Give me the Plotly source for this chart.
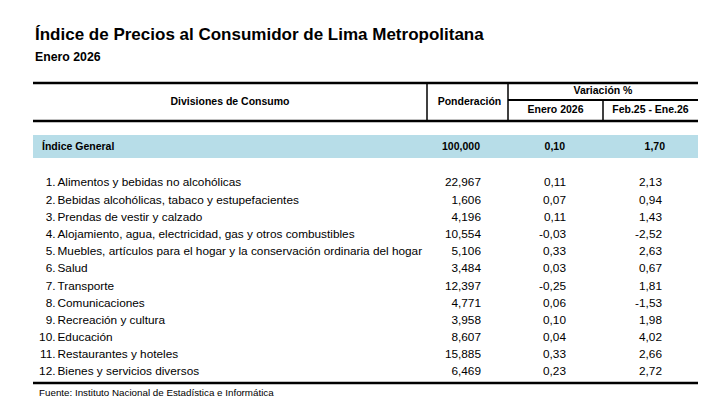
import plotly.graph_objects as go

# ---------------- data ----------------
title = "Índice de Precios al Consumidor de Lima Metropolitana"
subtitle = "Enero 2026"
header_divisiones = "Divisiones de Consumo"
header_ponderacion = "Ponderación"
header_variacion = "Variación %"
header_mes = "Enero 2026"
header_anual = "Feb.25 - Ene.26"

general_label = "Índice General"
general_ponderacion = 100.000
general_mes = 0.10
general_anual = 1.70

division_numbers = ["1.", "2.", "3.", "4.", "5.", "6.", "7.", "8.", "9.", "10.", "11.", "12."]
division_names = [
    "Alimentos y bebidas no alcohólicas",
    "Bebidas alcohólicas, tabaco y estupefacientes",
    "Prendas de vestir y calzado",
    "Alojamiento, agua, electricidad, gas y otros combustibles",
    "Muebles, artículos para el hogar y la conservación ordinaria del hogar",
    "Salud",
    "Transporte",
    "Comunicaciones",
    "Recreación y cultura",
    "Educación",
    "Restaurantes y hoteles",
    "Bienes y servicios diversos",
]
ponderacion = [22.967, 1.606, 4.196, 10.554, 5.106, 3.484, 12.397, 4.771, 3.958, 8.607, 15.885, 6.469]
var_mes = [0.11, 0.07, 0.11, -0.03, 0.33, 0.03, -0.25, 0.06, 0.10, 0.04, 0.33, 0.23]
var_anual = [2.13, 0.94, 1.43, -2.52, 2.63, 0.67, 1.81, -1.53, 1.98, 4.02, 2.66, 2.72]
source = "Fuente: Instituto Nacional de Estadística e Informática"


def fmt(v, d):
    return f"{v:.{d}f}".replace(".", ",")


# ---------------- layout constants (pixels) ----------------
W, H = 719, 409
FONT = "Liberation Sans, Arial, sans-serif"
X_LEFT, X_RIGHT = 33, 698
X_V1, X_V2, X_V3 = 427, 508, 603
Y_TOP, Y_SUB, Y_HEAD_BOTTOM = 83, 100, 121
Y_BAND0, Y_BAND1 = 135, 158
Y_GENERAL = 147
ROW0, ROW_H = 183.5, 17.18
Y_BOTTOM = 383
X_NUM_END, X_NAME = 55.5, 57.5
X_POND, X_MES, X_ANUAL = 481, 566, 662

S_TITLE, S_SUB, S_HEAD, S_ROW, S_SRC = 17, 12.3, 10.5, 11.8, 9.8

row_y = [ROW0 + i * ROW_H for i in range(len(division_names))]

fig = go.Figure()

black = "#000000"


def text_trace(xs, ys, texts, pos, size, bold=False):
    fig.add_trace(go.Scatter(
        x=xs, y=ys, text=texts, mode="text", textposition=pos,
        textfont=dict(family=FONT, size=size, color=black,
                      weight="bold" if bold else "normal"),
        hoverinfo="skip", showlegend=False, cliponaxis=False,
    ))


# title
text_trace([35], [36], [title], "middle right", S_TITLE, True)
text_trace([35], [58], [subtitle], "middle right", S_SUB, True)

# headers
text_trace([(X_LEFT + X_V1) / 2], [(Y_TOP + Y_HEAD_BOTTOM) / 2], [header_divisiones], "middle center", S_HEAD, True)
text_trace([(X_V1 + X_V2) / 2 + 2], [(Y_TOP + Y_HEAD_BOTTOM) / 2], [header_ponderacion], "middle center", S_HEAD, True)
text_trace([(X_V2 + X_RIGHT) / 2], [(Y_TOP + Y_SUB) / 2], [header_variacion], "middle center", S_HEAD, True)
text_trace([(X_V2 + X_V3) / 2], [(Y_SUB + Y_HEAD_BOTTOM) / 2], [header_mes], "middle center", S_HEAD, True)
text_trace([(X_V3 + X_RIGHT) / 2], [(Y_SUB + Y_HEAD_BOTTOM) / 2], [header_anual], "middle center", S_HEAD, True)

# general row
text_trace([42], [Y_GENERAL], [general_label], "middle right", S_HEAD, True)
text_trace([X_POND - 1], [Y_GENERAL], [fmt(general_ponderacion, 3)], "middle left", S_HEAD, True)
text_trace([X_MES - 1], [Y_GENERAL], [fmt(general_mes, 2)], "middle left", S_HEAD, True)
text_trace([X_ANUAL + 3], [Y_GENERAL], [fmt(general_anual, 2)], "middle left", S_HEAD, True)

# division rows
n = len(division_names)
text_trace([X_NUM_END] * n, row_y, division_numbers, "middle left", S_ROW)
text_trace([X_NAME] * n, row_y, division_names, "middle right", S_ROW)
text_trace([X_POND] * n, row_y, [fmt(v, 3) for v in ponderacion], "middle left", S_ROW)
text_trace([X_MES] * n, row_y, [fmt(v, 2) for v in var_mes], "middle left", S_ROW)
text_trace([X_ANUAL] * n, row_y, [fmt(v, 2) for v in var_anual], "middle left", S_ROW)

# source
text_trace([39], [394], [source], "middle right", S_SRC)

shapes = [
    dict(type="rect", x0=X_LEFT, x1=X_RIGHT, y0=Y_BAND0, y1=Y_BAND1,
         fillcolor="#B7DDE8", line=dict(width=0), layer="below"),
    dict(type="line", x0=X_LEFT, x1=X_RIGHT, y0=Y_TOP, y1=Y_TOP, line=dict(color=black, width=2.5)),
    dict(type="line", x0=X_LEFT, x1=X_RIGHT, y0=Y_HEAD_BOTTOM, y1=Y_HEAD_BOTTOM, line=dict(color=black, width=2.5)),
    dict(type="line", x0=X_V2, x1=X_RIGHT, y0=Y_SUB, y1=Y_SUB, line=dict(color=black, width=2)),
    dict(type="line", x0=X_V1, x1=X_V1, y0=Y_TOP, y1=Y_HEAD_BOTTOM, line=dict(color=black, width=1.5)),
    dict(type="line", x0=X_V2, x1=X_V2, y0=Y_TOP, y1=Y_HEAD_BOTTOM, line=dict(color=black, width=1.5)),
    dict(type="line", x0=X_V3, x1=X_V3, y0=Y_SUB, y1=Y_HEAD_BOTTOM, line=dict(color=black, width=1.5)),
    dict(type="line", x0=X_LEFT, x1=X_RIGHT, y0=Y_BOTTOM, y1=Y_BOTTOM, line=dict(color=black, width=2.5)),
]
for s in shapes:
    s["xref"] = "x"
    s["yref"] = "y"

fig.update_layout(
    width=W, height=H,
    margin=dict(l=0, r=0, t=0, b=0),
    paper_bgcolor="white", plot_bgcolor="white",
    xaxis=dict(range=[0, W], visible=False, fixedrange=True),
    yaxis=dict(range=[H, 0], visible=False, fixedrange=True),
    shapes=shapes,
    showlegend=False,
)

fig.write_html("out.html", config={"displayModeBar": False},
               post_script="document.body.style.margin='0px';")
